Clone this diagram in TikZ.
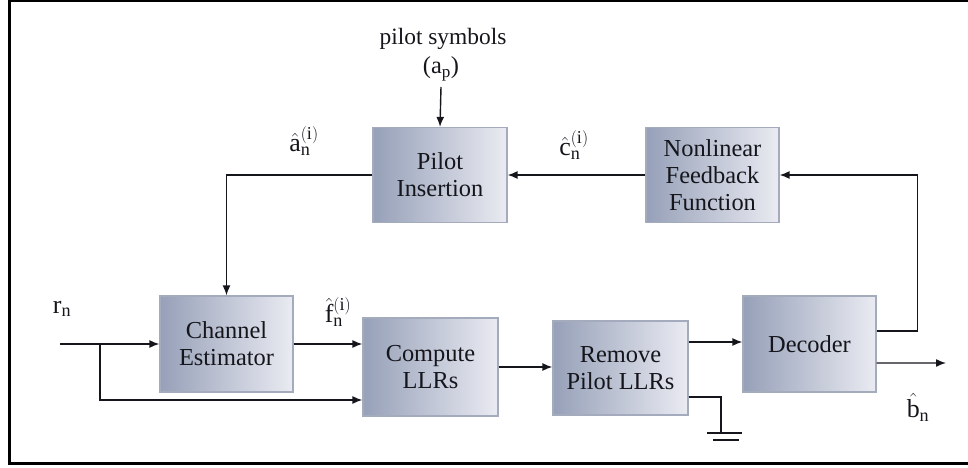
\documentclass[tikz,border=0pt]{standalone}
\usepackage{fontspec}
\setmainfont{Liberation Serif}
\usepackage{amsmath}
\usepackage{xcolor}
\usetikzlibrary{arrows.meta,positioning,calc}
\definecolor{boxdark}{HTML}{96A0B8}
\definecolor{boxlight}{HTML}{EAEBF2}
\definecolor{boxedge}{HTML}{A3ABBD}
\definecolor{inkgray}{HTML}{15151C}
\newcommand{\rmsym}[1]{\mathrm{#1}}

\begin{document}
\begin{tikzpicture}[x=1bp, y=-1bp,
    font=\fontsize{24.5}{27}\selectfont,
    blockbox/.style={draw=boxedge, line width=1.2bp, left color=boxdark,
                     right color=boxlight, align=center, inner sep=2bp,
                     text=inkgray},
    sigarrow/.style={draw=inkgray, line width=1.4bp, -{Latex[length=10bp,width=8bp]}},
    sigline/.style={draw=inkgray, line width=1.4bp},
    siglabel/.style={text=inkgray, inner sep=1bp, font=\fontsize{26}{28}\selectfont}]
    \useasboundingbox (0,0) rectangle (968,468);
    % --- outer frame (right side cut off) ---
    \draw[line width=2.6bp] (968,1.2) -- (9.5,1.2) -- (9.5,463.5) -- (968,463.5);

    % --- blocks ---
    \node[blockbox, minimum width=134bp, minimum height=95bp] (pilot) at (440,175) {Pilot\\Insertion};
    \node[blockbox, minimum width=133bp, minimum height=95bp] (nfb)   at (712.5,175) {Nonlinear\\Feedback\\Function};
    \node[blockbox, minimum width=133bp, minimum height=96bp] (chan)  at (226.5,344) {Channel\\Estimator};
    \node[blockbox, minimum width=135bp, minimum height=98bp] (comp)  at (430.5,367) {Compute\\LLRs};
    \node[blockbox, minimum width=135bp, minimum height=94bp] (rem)   at (620.5,368) {Remove\\Pilot LLRs};
    \node[blockbox, minimum width=133bp, minimum height=96bp] (dec)   at (809.5,344) {Decoder};

    % --- pilot input ---
    \node[text=inkgray, inner sep=1bp, font=\fontsize{23.5}{25}\selectfont] (psym) at (443,39) {pilot symbols};
    \node[text=inkgray, inner sep=1bp] (ap) at (441,69) {($\rmsym{a}_{\rmsym{p}}$)};
    \draw[sigarrow] (ap.south |- 0,87) -- (pilot.north);

    % --- feedback loop ---
    \draw[sigarrow] (pilot.west) -| (chan.north);
    \draw[sigarrow] (nfb.west) -- (pilot.east);
    \draw[sigarrow] ([yshift=13bp]dec.east) -- ++(41,0) |- (nfb.east);

    % --- forward path ---
    \coordinate (rin)   at (60,344);
    \coordinate (split) at (100,344);
    \draw[sigarrow] (rin) -- (chan.west);
    \draw[sigarrow] (split) |- ([yshift=-33bp]comp.west);
    \draw[sigarrow] (chan.east) -- (chan.east -| comp.west);
    \draw[sigarrow] (comp.east) -- (comp.east -| rem.west);
    \draw[sigarrow] ([yshift=26bp]rem.east) -- ([yshift=26bp]rem.east -| dec.west);
    \coordinate (bout) at (946,363);
    \draw[sigarrow] ([yshift=-19bp]dec.east) -- (bout);

    % --- discarded pilot LLRs go to ground ---
    \coordinate (gnd) at (721,433);
    \draw[sigline] ([yshift=-29bp]rem.east) -| (gnd);
    \draw[sigline] ($(gnd)+(-14,0)$) -- ($(gnd)+(21,0)$);
    \draw[sigline] ($(gnd)+(-8,7)$) -- ($(gnd)+(18,7)$);

    % --- signal labels ---
    \node[siglabel] (ahat) at (304,141) {$\hat{\rmsym{a}}_{\rmsym{n}}^{(\rmsym{i})}$};
    \node[siglabel] (chat) at (574,145) {$\hat{\rmsym{c}}_{\rmsym{n}}^{(\rmsym{i})}$};
    \node[siglabel] (fhat) at (338,312) {$\hat{\rmsym{f}}_{\rmsym{n}}^{(\rmsym{i})}$};
    \node[siglabel] (rn)   at (62,309)  {$\rmsym{r}_{\rmsym{n}}$};
    \node[siglabel] (bhat) at (918,407) {$\hat{\rmsym{b}}_{\rmsym{n}}$};
\end{tikzpicture}
\end{document}
